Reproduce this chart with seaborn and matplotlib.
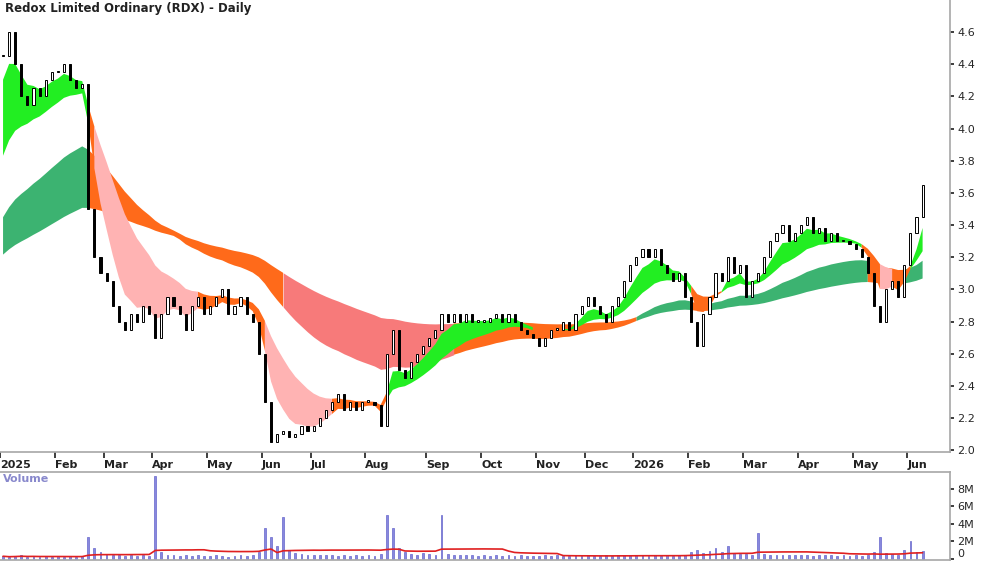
import numpy as np
import pandas as pd
import seaborn as sns
from matplotlib import pyplot as plt

sns.set_theme(style='white')
plt.rcParams['font.family'] = ['DejaVu Sans']

# closes, roughly two samples per week, grouped by month
pre_hist = [3.0, 3.0, 2.95, 3.0, 3.05, 3.0, 3.0, 3.05, 3.1, 3.0, 3.1, 3.2, 3.3, 3.4,
            3.5, 3.7, 3.9, 4.1, 4.3, 4.4, 4.5]
months = ['2025', 'Feb', 'Mar', 'Apr', 'May', 'Jun', 'Jul', 'Aug', 'Sep', 'Oct', 'Nov', 'Dec',
          '2026', 'Feb', 'Mar', 'Apr', 'May', 'Jun']
closes_by_month = [
    [4.45, 4.6, 4.4, 4.2, 4.15, 4.25, 4.2, 4.3, 4.35],
    [4.35, 4.4, 4.3, 4.25, 4.28, 3.5, 3.2, 3.1],
    [3.05, 2.9, 2.8, 2.75, 2.85, 2.8, 2.9, 2.85],
    [2.7, 2.85, 2.95, 2.9, 2.85, 2.75, 2.9, 2.95, 2.85],
    [2.9, 2.95, 3.0, 2.85, 2.9, 2.95, 2.85, 2.8, 2.6],
    [2.3, 2.05, 2.1, 2.12, 2.08, 2.1, 2.15, 2.12],
    [2.15, 2.2, 2.25, 2.3, 2.35, 2.25, 2.3, 2.25, 2.3],
    [2.3, 2.28, 2.15, 2.6, 2.75, 2.5, 2.45, 2.55, 2.6, 2.65],
    [2.7, 2.75, 2.85, 2.8, 2.85, 2.8, 2.85, 2.8, 2.8],
    [2.8, 2.82, 2.85, 2.8, 2.85, 2.8, 2.75, 2.72, 2.7],
    [2.65, 2.7, 2.75, 2.75, 2.8, 2.75, 2.85, 2.9],
    [2.95, 2.9, 2.85, 2.8, 2.9, 2.95, 3.05, 3.15],
    [3.2, 3.25, 3.2, 3.25, 3.15, 3.1, 3.05, 3.1, 2.95],
    [2.8, 2.65, 2.85, 2.95, 3.1, 3.05, 3.2, 3.1, 3.15],
    [2.95, 3.05, 3.1, 3.2, 3.3, 3.35, 3.4, 3.3, 3.35],
    [3.4, 3.45, 3.35, 3.38, 3.3, 3.35, 3.3, 3.3, 3.28],
    [3.25, 3.2, 3.1, 2.9, 2.8, 3.0, 3.05, 2.95, 3.15],
    [3.35, 3.45, 3.65],
]
# volume in millions, same grouping
volume_by_month = [
    [0.3, 0.2, 0.3, 0.4, 0.2, 0.3, 0.2, 0.3, 0.2],
    [0.3, 0.2, 0.3, 0.2, 0.3, 2.5, 1.2, 0.8],
    [0.6, 0.5, 0.4, 0.3, 0.4, 0.3, 0.5, 0.3],
    [9.5, 0.8, 0.5, 0.4, 0.3, 0.4, 0.3, 0.5, 0.3],
    [0.3, 0.4, 0.3, 0.2, 0.3, 0.4, 0.3, 0.5, 0.8],
    [3.5, 2.5, 1.5, 4.8, 1.0, 0.7, 0.6, 0.5],
    [0.5, 0.4, 0.5, 0.4, 0.3, 0.4, 0.3, 0.4, 0.3],
    [0.4, 0.3, 0.6, 5.0, 3.5, 1.2, 0.8, 0.6, 0.5, 0.7],
    [0.6, 0.5, 5.0, 0.6, 0.5, 0.4, 0.5, 0.4, 0.3],
    [0.4, 0.3, 0.4, 0.3, 0.4, 0.3, 0.4, 0.3, 0.3],
    [0.3, 0.4, 0.3, 0.4, 0.3, 0.3, 0.4, 0.3],
    [0.4, 0.3, 0.3, 0.4, 0.3, 0.4, 0.5, 0.4],
    [0.5, 0.4, 0.3, 0.4, 0.3, 0.4, 0.3, 0.4, 0.5],
    [0.8, 1.0, 0.7, 0.9, 1.2, 0.8, 1.5, 0.7, 0.6],
    [0.6, 0.5, 3.0, 0.6, 0.5, 0.4, 0.5, 0.4, 0.4],
    [0.5, 0.4, 0.3, 0.4, 0.5, 0.4, 0.3, 0.4, 0.3],
    [0.4, 0.3, 0.5, 0.8, 2.5, 0.7, 0.6, 0.5, 1.0],
    [2.0, 0.8, 0.9],
]
short_spans = [5, 6, 8, 10, 12, 15]
long_spans = [36, 44, 52, 62, 72, 84]

closes = np.array([c for m in closes_by_month for c in m])
volume = np.array([v for m in volume_by_month for v in m])
n = len(closes)
x = np.arange(n)
month_starts = np.cumsum([0] + [len(m) for m in closes_by_month[:-1]])

full = pd.Series(pre_hist + list(closes))
def band(spans):
    emas = np.array([full.ewm(span=s, adjust=False).mean().values[len(pre_hist) - 1:] for s in spans])
    lo, hi = emas.min(axis=0), emas.max(axis=0)
    mid = (lo + hi) / 2
    slope = np.diff(mid)
    return emas[0, 1:] - emas[-1, 1:], slope, lo[1:], hi[1:]

fig = plt.figure(figsize=(10, 5.62), dpi=100)
ax = fig.add_axes([0.0, 0.196, 0.95, 0.804])
axv = fig.add_axes([0.0, 0.004, 0.95, 0.157], sharex=ax)

# ribbons: green rising, orange flat/mild, red/pink when fast EMAs well below slow
for spans, up_c, mid_c, down_c, gap, need_slope in [
        (long_spans, '#3cb371', '#ff6a1a', '#f77a7a', 0.2, True),
        (short_spans, '#22ee22', '#ff6a1a', '#ffb3b3', 0.12, False)]:
    d, slope, lo, hi = band(spans)
    up = (d >= 0) & ((slope > 0) | (not need_slope))
    down = d < -gap
    mid = ~up & ~down
    for mask, col in [(up, up_c), (mid, mid_c), (down, down_c)]:
        m = mask.copy()
        m[1:] |= mask[:-1]
        ax.fill_between(x, lo, hi, where=m, color=col, linewidth=0)

# candles: open is previous close
opens = np.concatenate([[closes[0]], closes[:-1]])
bottoms = np.minimum(opens, closes)
heights = np.maximum(np.abs(closes - opens), 0.01)
face = np.where(closes >= opens, 'white', 'black')
ax.bar(x, heights, bottom=bottoms, width=0.35, color=face, edgecolor='black', linewidth=0.7, zorder=3)

ax.set_ylim(1.99, 4.8)
ax.set_xlim(-0.5, n + 3.5)
ax.yaxis.tick_right()
ax.set_yticks(np.arange(2.0, 4.61, 0.2))
ax.set_yticklabels([f'{v:.1f}' for v in np.arange(2.0, 4.61, 0.2)], fontsize=8)
ax.set_xticks(month_starts - 0.5)
ax.set_xticklabels(months, fontsize=8, fontweight='bold', ha='left', color='#222222')
ax.tick_params(axis='x', length=4, pad=2, direction='out', bottom=True)
ax.tick_params(axis='y', length=3, right=True, pad=2)
ax.text(0.005, 0.995, 'Redox Limited Ordinary (RDX) - Daily', transform=ax.transAxes,
        fontsize=8.5, fontweight='bold', va='top', color='#222222')
for s in ['top', 'left']:
    ax.spines[s].set_visible(False)
for s in ['right', 'bottom']:
    ax.spines[s].set_color('#aaaaaa')

# volume pane
axv.bar(x, volume, width=0.3, color='#8888dd', edgecolor='#6666cc', linewidth=0.5)
vol_ma = pd.Series(volume).rolling(20, min_periods=1).mean()
axv.plot(x, vol_ma, color='#e02020', linewidth=1.2)
axv.set_ylim(-0.1, 10)
axv.yaxis.tick_right()
axv.set_yticks([0, 2, 4, 6, 8])
axv.set_yticklabels(['0', '2M', '4M', '6M', '8M'], fontsize=8)
axv.get_yticklabels()[0].set_va('bottom')
axv.tick_params(axis='y', length=3, right=True, pad=2)
axv.tick_params(axis='x', bottom=False, labelbottom=False)
axv.text(0.003, 0.97, 'Volume', transform=axv.transAxes, fontsize=8, fontweight='bold',
         va='top', color='#8888cc')
for s in ['left']:
    axv.spines[s].set_visible(False)
for s in ['right', 'bottom', 'top']:
    axv.spines[s].set_color('#aaaaaa')

fig.savefig('out.png', dpi=100)
